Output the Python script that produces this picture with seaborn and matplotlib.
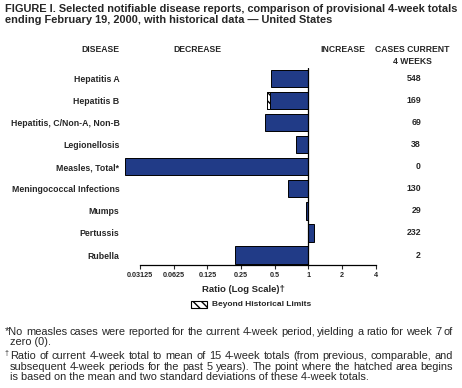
import numpy as np
import pandas as pd
import seaborn as sns
import matplotlib
matplotlib.use("Agg")
import matplotlib.pyplot as plt
from matplotlib.transforms import blended_transform_factory
from matplotlib.patches import Rectangle

# data
diseases = ["Hepatitis A", "Hepatitis B", "Hepatitis, C/Non-A, Non-B", "Legionellosis",
            "Measles, Total*", "Meningococcal Infections", "Mumps", "Pertussis", "Rubella"]
ratios = [0.46, 0.43, 0.41, 0.78, 0.0, 0.66, 0.95, 1.12, 0.22]
hatch_from = [np.nan, 0.45, np.nan, np.nan, np.nan, np.nan, np.nan, np.nan, np.nan]
cases = [548, 169, 69, 38, 0, 130, 29, 232, 2]
tick_vals = [0.03125, 0.0625, 0.125, 0.25, 0.5, 1, 2, 4]
tick_labels = ["0.03125", "0.0625", "0.125", "0.25", "0.5", "1", "2", "4"]

W, H = 462, 388
x_min = -5.45  # left edge of axes in log2 units (measles ratio 0 is drawn to here)

sns.set_style("white")
plt.rcParams["font.family"] = ["Liberation Sans", "DejaVu Sans"]

fig = plt.figure(figsize=(W / 100, H / 100), dpi=100)
ax = fig.add_axes([125 / W, 1 - 265 / H, 250.5 / W, 197 / H])

def px(x, y):
    return x / W, 1 - y / H

df = pd.DataFrame({"disease": diseases,
                   "log_ratio": np.log2(np.maximum(ratios, 2.0 ** x_min))})
bar_col = "#213b87"
sns.barplot(data=df, x="log_ratio", y="disease", orient="h", color=bar_col,
            width=0.78, edgecolor="black", linewidth=0.7, saturation=1, ax=ax)

# beyond historical limits part
for i, (r, h) in enumerate(zip(ratios, hatch_from)):
    if not np.isnan(h):
        ax.barh(i, np.log2(r) - np.log2(h), left=np.log2(h), height=0.78,
                color="white", edgecolor="black", hatch="\\\\\\\\", linewidth=0.7)

ax.axvline(0, color="black", lw=0.9)
ax.set_xlim(x_min, 2.0)
ax.set_ylim(8.45, -0.47)
ax.set_xticks(np.log2(tick_vals))
ax.set_xticklabels(tick_labels, fontsize=5.2, fontweight="bold")
ax.tick_params(axis="x", length=3, width=0.8, pad=2, direction="out", bottom=True)
ax.tick_params(axis="y", length=0, pad=4)
for lab in ax.get_yticklabels():
    lab.set_fontsize(6.3)
    lab.set_fontweight("bold")
ax.set_xlabel("")
ax.set_ylabel("")
for s in ["left", "top", "right"]:
    ax.spines[s].set_visible(False)
ax.spines["bottom"].set_bounds(-5, 2)
ax.spines["bottom"].set_linewidth(0.9)
ax.spines["bottom"].set_color("black")

# cases column
tr = blended_transform_factory(fig.transFigure, ax.transData)
for i, c in enumerate(cases):
    ax.text(421 / W, i, str(c), transform=tr, ha="right", va="center",
            fontsize=6.3, fontweight="bold")

# title and headers
fig.text(*px(5, 4), "FIGURE I. Selected notifiable disease reports, comparison of provisional 4-week totals\n"
         "ending February 19, 2000, with historical data \u2014 United States",
         ha="left", va="top", fontsize=7.9, fontweight="bold", linespacing=1.12)
hdr = dict(ha="center", va="center", fontsize=6.2, fontweight="bold")
fig.text(*px(100, 50), "DISEASE", **hdr)
fig.text(*px(197, 50), "DECREASE", **hdr)
fig.text(*px(343, 50), "INCREASE", **hdr)
fig.text(*px(412, 50), "CASES CURRENT", **hdr)
fig.text(*px(412, 61), "4 WEEKS", **hdr)

fig.text(*px(243, 290), "Ratio (Log Scale)\u2020", ha="center", va="center",
         fontsize=6.8, fontweight="bold")
fig.patches.append(Rectangle(px(191, 308), 16 / W, 7 / H, transform=fig.transFigure,
                             facecolor="white", edgecolor="black", hatch="\\\\\\\\", lw=0.8))
fig.text(*px(212, 304.5), "Beyond Historical Limits", ha="left", va="center",
         fontsize=6.0, fontweight="bold")

# footnotes (justified by spreading words)
fig.canvas.draw()
renderer = fig.canvas.get_renderer()
fn_size = 7.9

def justify(line, x0, x1, y):
    words = line.split()
    ws = []
    for w in words:
        t = fig.text(0, 0, w, fontsize=fn_size)
        ws.append(t.get_window_extent(renderer).width)
        t.remove()
    gap = (x1 - x0 - sum(ws)) / (len(words) - 1)
    x = x0
    for w, wd in zip(words, ws):
        fig.text(*px(x, y), w, fontsize=fn_size, ha="left", va="center")
        x += wd + gap

justify("*No measles cases were reported for the current 4-week period, yielding a ratio for week 7 of",
        5, 453, 332)
fig.text(*px(10, 342), "zero (0).", fontsize=fn_size, ha="left", va="center")
fig.text(*px(4, 354), "\u2020", fontsize=5, ha="left", va="center")
justify("Ratio of current 4-week total to mean of 15 4-week totals (from previous, comparable, and",
        10, 453, 356)
justify("subsequent 4-week periods for the past 5 years). The point where the hatched area begins",
        10, 453, 366.5)
fig.text(*px(10, 377), "is based on the mean and two standard deviations of these 4-week totals.",
         fontsize=fn_size, ha="left", va="center")

fig.savefig("out.png", dpi=100)
